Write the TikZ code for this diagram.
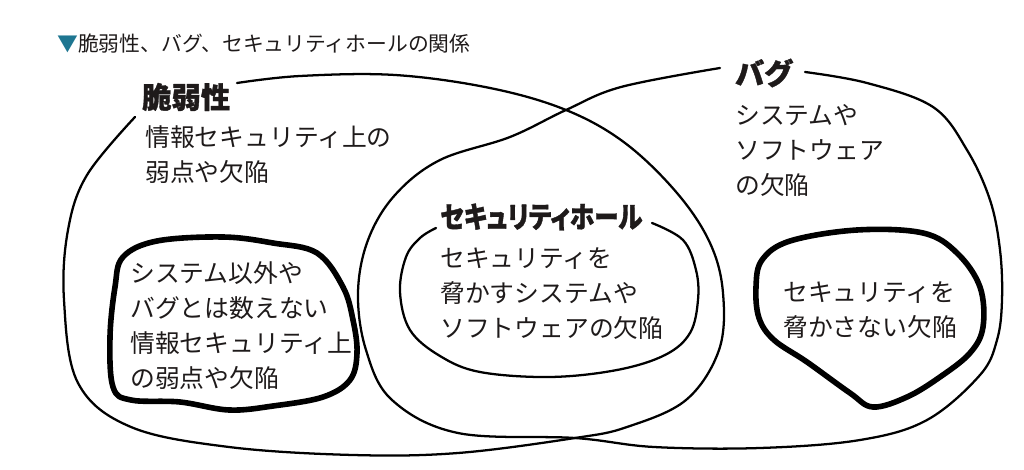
\documentclass[tikz,border=0pt]{standalone}
\usepackage{fontspec}
\setmainfont{Noto Sans CJK JP}
\newfontfamily\headfont{Noto Sans CJK JP}[BoldFeatures={FakeBold=1.2}, RawFeature=+palt]
\newfontfamily\headnarrow{Noto Sans CJK JP}[BoldFeatures={FakeBold=1.2}, RawFeature=+palt, FakeStretch=0.84]
\definecolor{markteal}{RGB}{30,118,145}
\definecolor{inkgray}{RGB}{30,26,26}

\begin{document}
\begin{tikzpicture}[x=0.75pt, y=-0.75pt, line cap=round, line join=round,
    thinloop/.style={line width=1.7pt, draw=black},
    thickloop/.style={line width=4.2pt, draw=black},
    headtext/.style={anchor=west, inner sep=0, text=inkgray,
      font=\fontsize{22}{24}\headfont\bfseries},
    bodytext/.style={anchor=west, inner sep=0, align=left, text=inkgray,
      font=\fontsize{18.6}{26.25}\selectfont}]
  \useasboundingbox (0,0) rectangle (1024,470);

  % caption
  \node[anchor=west, inner sep=0, text=inkgray, font=\fontsize{15.6}{17}\selectfont] (caption) at (57,44)
    {\textcolor{markteal}{▼}脆弱性、バグ、セキュリティホールの関係};

  % vulnerability loop
  \draw[thinloop] plot[smooth, tension=0.6] coordinates {(237,83) (300,76) (395,75) (490,88) (566,110) (625,143) (677,193) (710,243) (723,293) (719,350) (686,400) (627,427) (575,438) (458,453) (353,455) (229,447) (131,427) (78,383) (64,300) (68,230) (87,175) (135,117)};
  % bug loop
  \draw[thinloop] plot[smooth, tension=0.6] coordinates {(805,72) (867,83) (933,107) (967,150) (990,200) (1000,250) (1002,300) (997,340) (980,375) (927,420) (860,440) (760,448) (654,447) (575,438) (458,433) (392,400) (366,350) (358,293) (368,240) (395,195) (440,160) (510,137) (566,110) (621,87) (720,68)};
  % security hole loop
  \draw[thinloop] plot[smooth, tension=0.6] coordinates {(652,223) (683,240) (696,270) (698,300) (690,333) (665,355) (617,370) (550,377) (480,372) (440,356) (410,330) (400,292) (406,257) (420,238) (436,228)};
  % thick blobs
  \draw[thickloop] plot[smooth cycle, tension=0.6] coordinates {(123,257) (157,241) (223,237) (273,243) (317,253) (343,287) (353,320) (357,353) (350,380) (323,397) (273,406) (229,410) (180,402) (131,400) (113,387) (110,337) (115,287)};
  \draw[thickloop] plot[smooth cycle, tension=0.6] coordinates {(756,287) (762,260) (790,241) (857,230) (923,233) (957,253) (980,287) (983,327) (970,353) (940,377) (907,397) (873,407) (850,393) (807,362) (774,340) (759,318)};

  % labels
  \node[headtext] (vuln) at (142,97) {脆弱性};
  \node[bodytext] (vulndesc) at (145,155) {情報セキュリティ上の\\弱点や欠陥};
  \node[headtext] (bug) at (735,73) {バグ};
  \node[bodytext] (bugdesc) at (735,150) {システムや\\ソフトウェア\\の欠陥};
  \node[headtext, font=\fontsize{22}{24}\headnarrow\bfseries] (hole) at (440,217) {セキュリティホール};
  \node[bodytext] (holedesc) at (440,294) {セキュリティを\\脅かすシステムや\\ソフトウェアの欠陥};
  \node[bodytext] (otherdesc) at (130,326) {システム以外や\\バグとは数えない\\情報セキュリティ上\\の弱点や欠陥};
  \node[bodytext] (safedesc) at (783,310) {セキュリティを\\脅かさない欠陥};
\end{tikzpicture}
\end{document}
